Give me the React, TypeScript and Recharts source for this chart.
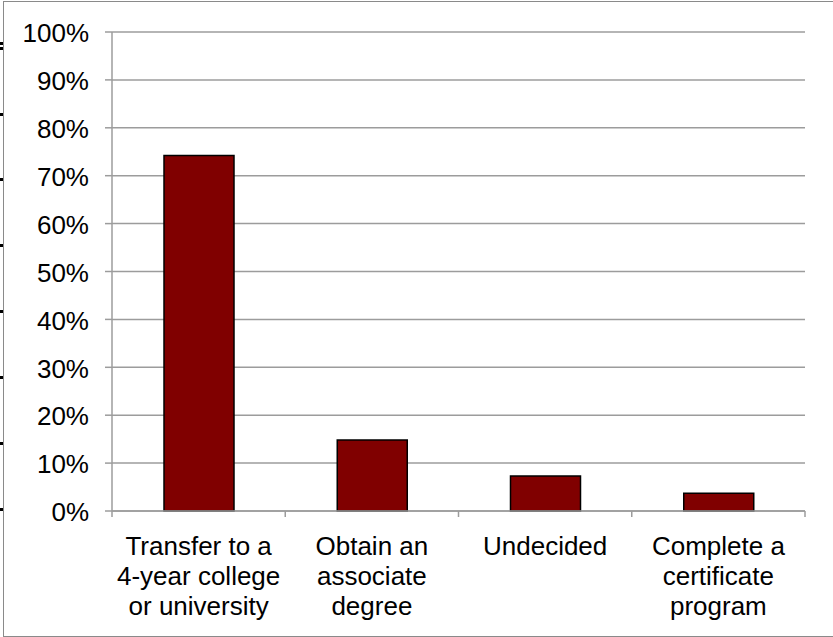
import React from "react";
import { BarChart, Bar, XAxis, YAxis, CartesianGrid } from "recharts";

const categories: string[] = [
  "Transfer to a\n4-year college\nor university",
  "Obtain an\nassociate\ndegree",
  "Undecided",
  "Complete a\ncertificate\nprogram",
];
const percentages: number[] = [74.2, 14.8, 7.3, 3.7];
const yTicks: number[] = [0, 10, 20, 30, 40, 50, 60, 70, 80, 90, 100];
const artifactMarks: number[] = [43, 48, 114, 179, 245, 311, 377, 443, 509];

const data = categories.map((c, i) => ({ name: c, value: percentages[i] }));

const W = 833;
const H = 637;
const X_AXIS_H = 126;
const M = { top: 32, right: 28, bottom: 0, left: 0 };
const Y_AXIS_W = 112;
const FONT = "'Liberation Sans', Arial, sans-serif";
const GRID = "#9c9c9c";
const band = (W - M.left - M.right - Y_AXIS_W) / categories.length;

const XTick = (props: any) => {
  const { x, y, payload, index } = props;
  const lines = String(payload.value).split("\n");
  const isLast = index === categories.length - 1;
  return (
    <g>
      <line x1={x - band / 2} x2={x - band / 2} y1={y} y2={y + 6} stroke={GRID} strokeWidth={1.5} />
      {isLast && (
        <line x1={x + band / 2} x2={x + band / 2} y1={y} y2={y + 6} stroke={GRID} strokeWidth={1.5} />
      )}
      <text x={x} y={y} textAnchor="middle" fontSize={26} fontFamily={FONT} fill="#000">
        {lines.map((l, i) => (
          <tspan key={i} x={x} y={y + 44 + i * 30}>
            {l}
          </tspan>
        ))}
      </text>
    </g>
  );
};

const YTick = (props: any) => {
  const { x, y, payload } = props;
  return (
    <text x={x} y={y + 1} dy="0.355em" textAnchor="end" fontSize={26} fontFamily={FONT} fill="#000">
      {payload.value + "%"}
    </text>
  );
};

export default function App() {
  return (
    <div style={{ position: "absolute", left: 0, top: 0, width: W, height: H, background: "#fff", overflow: "hidden" }}>
      <BarChart width={W} height={H} data={data} margin={M}>
        <CartesianGrid vertical={false} stroke={GRID} strokeWidth={1.5} />
        <XAxis
          dataKey="name"
          interval={0}
          tickLine={false}
          tickSize={0}
          tickMargin={0}
          axisLine={{ stroke: GRID, strokeWidth: 1.5 }}
          tick={<XTick />}
          height={X_AXIS_H}
        />
        <YAxis
          domain={[0, 100]}
          ticks={yTicks}
          interval={0}
          width={Y_AXIS_W}
          tickSize={7}
          tickMargin={16}
          tickLine={{ stroke: GRID, strokeWidth: 1.5 }}
          axisLine={{ stroke: GRID, strokeWidth: 1.5 }}
          tick={<YTick />}
        />
        <Bar dataKey="value" fill="#800000" stroke="#000" strokeWidth={1.5} barSize={70} isAnimationActive={false} />
      </BarChart>
      <div
        style={{
          position: "absolute",
          left: 3,
          top: 1,
          width: W,
          height: H - 1,
          boxSizing: "border-box",
          borderLeft: "1.5px solid #8a8a8a",
          borderTop: "1.5px solid #8a8a8a",
          borderBottom: "1.5px solid #8a8a8a",
          pointerEvents: "none",
        }}
      />
      {artifactMarks.map((m, i) => (
        <div key={i} style={{ position: "absolute", left: 0, top: m - 1, width: 3, height: 3, background: "#000" }} />
      ))}
    </div>
  );
}
